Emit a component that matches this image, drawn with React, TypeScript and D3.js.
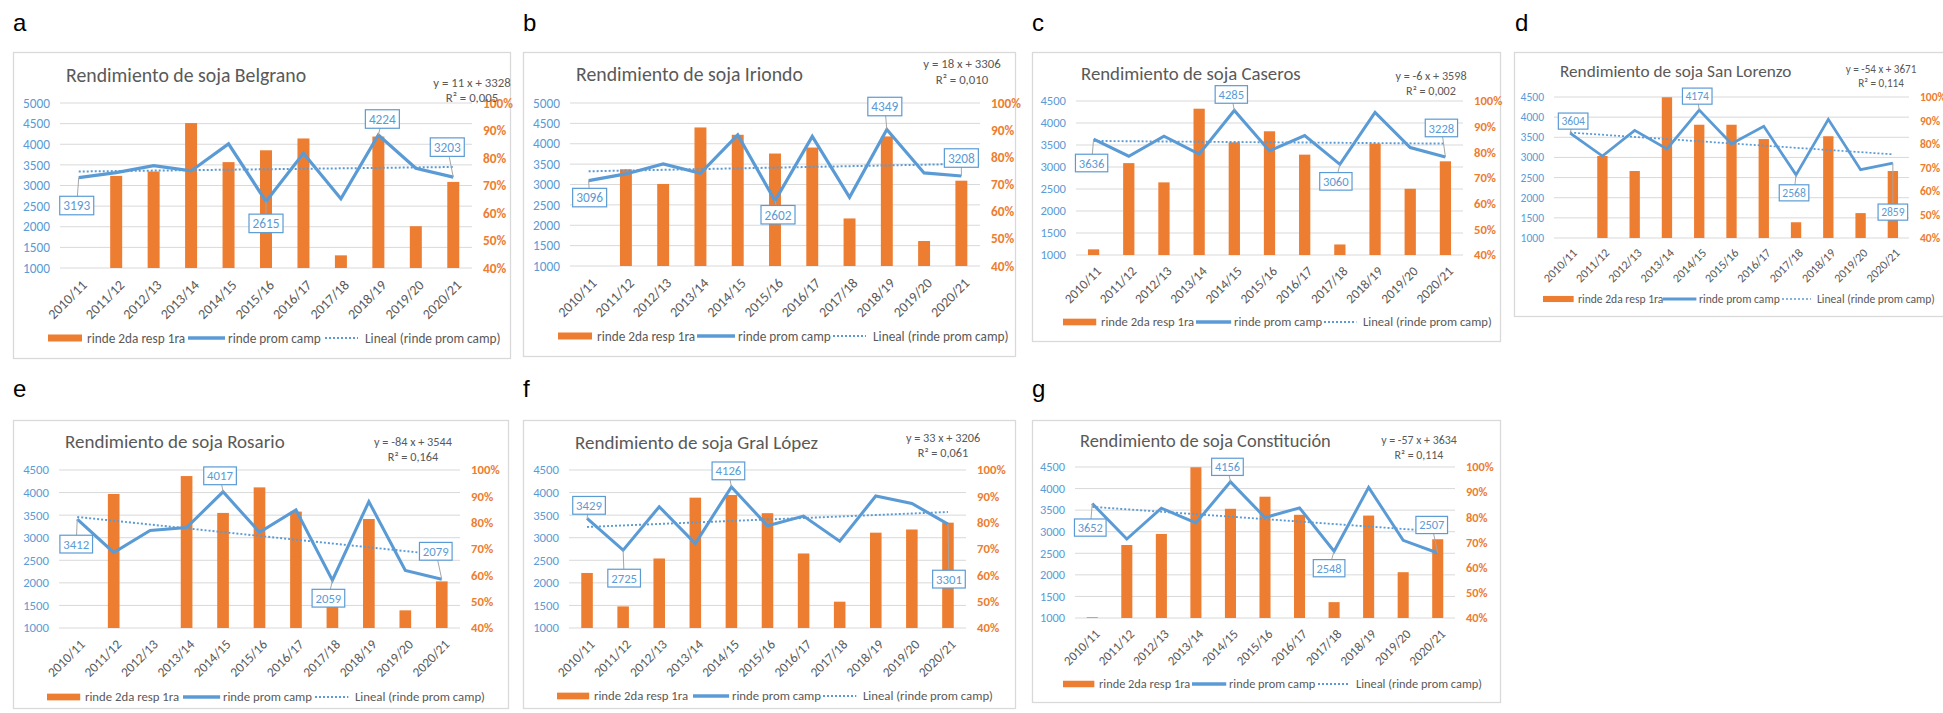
import React from 'react';
import * as d3 from 'd3';

const CATEGORIES = ['2010/11', '2011/12', '2012/13', '2013/14', '2014/15', '2015/16', '2016/17', '2017/18', '2018/19', '2019/20', '2020/21'];
const LEFT_TICKS_5000 = [1000, 1500, 2000, 2500, 3000, 3500, 4000, 4500, 5000];
const LEFT_TICKS_4500 = [1000, 1500, 2000, 2500, 3000, 3500, 4000, 4500];
const RIGHT_TICKS = [40, 50, 60, 70, 80, 90, 100];
const LEGEND_LABELS = ['rinde 2da resp 1ra', 'rinde prom camp', 'Lineal (rinde prom camp)'];

// rinde 2da resp 1ra (%, right axis) / rinde prom camp (kg/ha, left axis) / trend end values
const BELGRANO_BARS = [null, 73.5, 75.1, 92.7, 78.5, 82.8, 87.1, 44.6, 87.8, 55.2, 71.3];
const BELGRANO_LINE = [3193, 3312, 3483, 3353, 4010, 2615, 3783, 2679, 4224, 3418, 3203];
const BELGRANO_TREND = [3339, 3449];

const IRIONDO_BARS = [null, 75.6, 70.2, 91.0, 88.3, 81.4, 83.6, 57.5, 87.7, 49.2, 71.4];
const IRIONDO_LINE = [3096, 3259, 3505, 3275, 4220, 2602, 4179, 2684, 4349, 3283, 3208];
const IRIONDO_TREND = [3324, 3504];

const CASEROS_BARS = [42.2, 75.8, 68.3, 97.0, 83.9, 88.2, 79.1, 44.1, 83.4, 65.8, 76.5];
const CASEROS_LINE = [3636, 3245, 3699, 3291, 4285, 3366, 3714, 3060, 4243, 3442, 3228];
const CASEROS_TREND = [3592, 3532];

const SANLORENZO_BARS = [null, 74.9, 68.5, 99.9, 88.2, 88.2, 82.1, 46.7, 83.3, 50.6, 68.5];
const SANLORENZO_LINE = [3604, 3035, 3673, 3209, 4174, 3342, 3772, 2568, 3946, 2696, 2859];
const SANLORENZO_TREND = [3617, 3077];

const ROSARIO_BARS = [null, 90.9, null, 97.7, 83.7, 93.4, 84.2, 50.0, 81.4, 46.7, 57.7];
const ROSARIO_LINE = [3412, 2673, 3159, 3225, 4017, 3122, 3616, 2059, 3800, 2275, 2079];
const ROSARIO_TREND = [3460, 2620];

const GRALLOPEZ_BARS = [60.9, 48.2, 66.4, 89.5, 90.5, 83.6, 68.3, 50.0, 76.2, 77.4, 80.0];
const GRALLOPEZ_LINE = [3429, 2725, 3686, 2872, 4126, 3264, 3479, 2924, 3923, 3760, 3301];
const GRALLOPEZ_TREND = [3239, 3569];

const CONSTITUCION_BARS = [40.3, 69.0, 73.4, 99.9, 83.4, 88.2, 81.0, 46.3, 80.7, 58.2, 71.3];
const CONSTITUCION_LINE = [3652, 2831, 3545, 3204, 4156, 3328, 3553, 2548, 4027, 2800, 2507];
const CONSTITUCION_TREND = [3577, 3007];

const ORANGE = '#ed7d31';
const BLUE = '#5b9bd5';
const GREY_TEXT = '#595959';
const GRID = '#d9d9d9';
const FONT = "Carlito, Lato, 'Open Sans', sans-serif";

interface Layout {
  box: [number, number, number, number];
  plot: [number, number, number, number];
  s: number;
  letter: [number, number];
  titleAt: [number, number];
  eqAt: [number, number, number];
  legendY: number;
  legendX: number[];
  callouts: [number, number, number][]; // index, dx, dy from point
}

interface Panel {
  letter: string;
  title: string;
  bars: (number | null)[];
  line: number[];
  trend: number[];
  eq: [string, string];
  yTicks: number[];
  layout: Layout;
}

const PANELS: Panel[] = [
  {
    letter: 'a', title: 'Rendimiento de soja Belgrano', bars: BELGRANO_BARS, line: BELGRANO_LINE, trend: BELGRANO_TREND,
    eq: ['y = 11 x + 3328', 'R² = 0,005'], yTicks: LEFT_TICKS_5000,
    layout: {
      box: [13, 52, 510, 358], plot: [60, 103, 472, 268], s: 1, letter: [13, 31], titleAt: [66, 82], eqAt: [472, 83, 98],
      legendY: 338, legendX: [48, 87, 188, 228, 325, 365],
      callouts: [[0, -2, 28], [5, 0, 22], [8, 4, -16], [10, -6, -30]],
    },
  },
  {
    letter: 'b', title: 'Rendimiento de soja Iriondo', bars: IRIONDO_BARS, line: IRIONDO_LINE, trend: IRIONDO_TREND,
    eq: ['y = 18 x + 3306', 'R² = 0,010'], yTicks: LEFT_TICKS_5000,
    layout: {
      box: [523, 52, 1015, 356], plot: [570, 103, 980, 266], s: 1, letter: [523, 31], titleAt: [576, 81], eqAt: [962, 64, 80],
      legendY: 336, legendX: [558, 597, 697, 738, 833, 873],
      callouts: [[0, 1, 17], [5, 3, 14], [8, -2, -23], [10, 0, -18]],
    },
  },
  {
    letter: 'c', title: 'Rendimiento de soja Caseros', bars: CASEROS_BARS, line: CASEROS_LINE, trend: CASEROS_TREND,
    eq: ['y = -6 x + 3598', 'R² = 0,002'], yTicks: LEFT_TICKS_4500,
    layout: {
      box: [1032, 52, 1500, 341], plot: [1076, 101, 1463, 255], s: 0.95, letter: [1032, 31], titleAt: [1081, 80], eqAt: [1431, 76, 91],
      legendY: 322, legendX: [1063, 1101, 1196, 1234, 1324, 1363],
      callouts: [[0, -2, 24], [4, -3, -16], [7, -4, 17], [10, -4, -29]],
    },
  },
  {
    letter: 'd', title: 'Rendimiento de soja San Lorenzo', bars: SANLORENZO_BARS, line: SANLORENZO_LINE, trend: SANLORENZO_TREND,
    eq: ['y = -54 x + 3671', 'R² = 0,114'], yTicks: LEFT_TICKS_4500,
    layout: {
      box: [1514, 52, 1950, 316], plot: [1554, 97, 1909, 238], s: 0.87, letter: [1515, 31], titleAt: [1560, 77], eqAt: [1881, 69, 83],
      legendY: 299, legendX: [1543, 1578, 1663, 1699, 1782, 1817],
      callouts: [[0, 3, -12], [4, -2, -14], [7, -2, 18], [10, 0, 49]],
    },
  },
  {
    letter: 'e', title: 'Rendimiento de soja Rosario', bars: ROSARIO_BARS, line: ROSARIO_LINE, trend: ROSARIO_TREND,
    eq: ['y = -84 x + 3544', 'R² = 0,164'], yTicks: LEFT_TICKS_4500,
    layout: {
      box: [13, 420, 508, 708], plot: [59, 470, 460, 628], s: 0.96, letter: [13, 397], titleAt: [65, 448], eqAt: [413, 442, 457],
      legendY: 697, legendX: [47, 85, 183, 223, 315, 355],
      callouts: [[0, -1, 25], [4, -3, -16], [7, -4, 18], [10, -6, -28]],
    },
  },
  {
    letter: 'f', title: 'Rendimiento de soja Gral López', bars: GRALLOPEZ_BARS, line: GRALLOPEZ_LINE, trend: GRALLOPEZ_TREND,
    eq: ['y = 33 x + 3206', 'R² = 0,061'], yTicks: LEFT_TICKS_4500,
    layout: {
      box: [523, 420, 1015, 708], plot: [569, 470, 966, 628], s: 0.96, letter: [523, 397], titleAt: [575, 449], eqAt: [943, 438, 453],
      legendY: 696, legendX: [557, 594, 693, 732, 823, 863],
      callouts: [[0, 2, -13], [1, 1, 28], [4, -3, -16], [10, 1, 55]],
    },
  },
  {
    letter: 'g', title: 'Rendimiento de soja Constitución', bars: CONSTITUCION_BARS, line: CONSTITUCION_LINE, trend: CONSTITUCION_TREND,
    eq: ['y = -57 x + 3634', 'R² = 0,114'], yTicks: LEFT_TICKS_4500,
    layout: {
      box: [1032, 420, 1500, 702], plot: [1075, 467, 1455, 618], s: 0.93, letter: [1032, 397], titleAt: [1080, 447], eqAt: [1419, 440, 455],
      legendY: 684, legendX: [1063, 1099, 1192, 1229, 1318, 1356],
      callouts: [[0, -2, 24], [4, -3, -15], [7, -5, 17], [10, -6, -28]],
    },
  },
];

const ChartPanel: React.FC<{ p: Panel }> = ({ p }) => {
  const L = p.layout;
  const [left, top, right, bottom] = L.plot;
  const s = L.s;
  const yMax = p.yTicks[p.yTicks.length - 1];

  const x = d3.scaleBand<string>().domain(CATEGORIES).range([left, right]).paddingInner(0).paddingOuter(0);
  const cx = (i: number) => (x(CATEGORIES[i]) as number) + x.bandwidth() / 2;
  const yL = d3.scaleLinear().domain([1000, yMax]).range([bottom, top]);
  const yR = d3.scaleLinear().domain([40, 100]).range([bottom, top]);
  const barW = x.bandwidth() * 0.32;

  const linePath = d3.line<number>().x((_, i) => cx(i)).y(d => yL(d))(p.line) || '';
  const trendPath = d3.line<number>()
    .x((_, i) => (i === 0 ? cx(0) : cx(CATEGORIES.length - 1)))
    .y(d => yL(d))(p.trend) || '';

  const [bx0, by0, bx1, by1] = L.box;
  const lx = L.legendX;
  const fs = (v: number) => v * s;

  return (
    <g fontFamily={FONT}>
      <text x={L.letter[0]} y={L.letter[1]} fontFamily="'Liberation Sans', Arial, sans-serif" fontSize={24} fill="#000">{p.letter}</text>
      <rect x={bx0 + 0.5} y={by0 + 0.5} width={bx1 - bx0} height={by1 - by0} fill="#fff" stroke={GRID} strokeWidth={1.3} />
      <text x={L.titleAt[0]} y={L.titleAt[1]} fontSize={fs(19.8)} fill={GREY_TEXT}>{p.title}</text>

      {/* grid + left ticks */}
      {p.yTicks.map(t => (
        <g key={`l${t}`}>
          <line x1={left} x2={right} y1={yL(t)} y2={yL(t)} stroke={GRID} strokeWidth={1} />
          <text x={left - 10} y={yL(t)} dy="0.35em" textAnchor="end" fontSize={fs(13.3)} fill={BLUE}>{t}</text>
        </g>
      ))}
      {RIGHT_TICKS.map(t => (
        <text key={`r${t}`} x={right + 11} y={yR(t)} dy="0.35em" fontSize={fs(13.3)} fill={ORANGE} fontWeight={600}>{t}%</text>
      ))}

      {/* bars */}
      {p.bars.map((v, i) => v == null ? null : (
        <rect key={`b${i}`} x={cx(i) - barW / 2} y={yR(v)} width={barW} height={yR(40) - yR(v)} fill={ORANGE} />
      ))}

      <path d={trendPath} fill="none" stroke={BLUE} strokeWidth={fs(2)} strokeDasharray="2 2" />
      <path d={linePath} fill="none" stroke={BLUE} strokeWidth={fs(3.2)} strokeLinejoin="miter" />

      {/* callouts */}
      {L.callouts.map(([i, dx, dy]) => {
        const px = cx(i), py = yL(p.line[i]);
        const w = fs(34), h = fs(18.5);
        return (
          <g key={`c${i}`}>
            <line x1={px} y1={py} x2={px + dx} y2={py + dy} stroke="#a6a6a6" strokeWidth={1} />
            <rect x={px + dx - w / 2} y={py + dy - h / 2} width={w} height={h} fill="#fff" stroke={BLUE} strokeWidth={1.2} />
            <text x={px + dx} y={py + dy} dy="0.36em" textAnchor="middle" fontSize={fs(13.3)} fill={BLUE}>{p.line[i]}</text>
          </g>
        );
      })}

      {/* x axis labels */}
      {CATEGORIES.map((c, i) => (
        <text key={`x${c}`} transform={`translate(${cx(i) + fs(9)},${bottom + fs(18)}) rotate(-45)`} textAnchor="end" fontSize={fs(14)} fill={GREY_TEXT}>{c}</text>
      ))}

      {/* trend equation */}
      <text x={L.eqAt[0]} y={L.eqAt[1]} dy="0.35em" textAnchor="middle" fontSize={fs(12.8)} fill={GREY_TEXT}>{p.eq[0]}</text>
      <text x={L.eqAt[0]} y={L.eqAt[2]} dy="0.35em" textAnchor="middle" fontSize={fs(12.8)} fill={GREY_TEXT}>{p.eq[1]}</text>

      {/* legend */}
      <rect x={lx[0]} y={L.legendY - fs(3.5)} width={lx[1] - lx[0] - fs(5)} height={fs(7)} fill={ORANGE} />
      <text x={lx[1]} y={L.legendY} dy="0.35em" fontSize={fs(13.3)} fill={GREY_TEXT}>{LEGEND_LABELS[0]}</text>
      <line x1={lx[2]} x2={lx[3] - fs(3)} y1={L.legendY} y2={L.legendY} stroke={BLUE} strokeWidth={fs(3.5)} />
      <text x={lx[3]} y={L.legendY} dy="0.35em" fontSize={fs(13.3)} fill={GREY_TEXT}>{LEGEND_LABELS[1]}</text>
      <line x1={lx[4]} x2={lx[5] - fs(7)} y1={L.legendY} y2={L.legendY} stroke={BLUE} strokeWidth={fs(2)} strokeDasharray="2 2" />
      <text x={lx[5]} y={L.legendY} dy="0.35em" fontSize={fs(13.3)} fill={GREY_TEXT}>{LEGEND_LABELS[2]}</text>
    </g>
  );
};

export default function App() {
  return (
    <svg width={1943} height={713} style={{ position: 'absolute', left: 0, top: 0, background: '#fff' }}>
      <rect width={1943} height={713} fill="#fff" />
      {PANELS.map(p => <ChartPanel key={p.letter} p={p} />)}
    </svg>
  );
}
